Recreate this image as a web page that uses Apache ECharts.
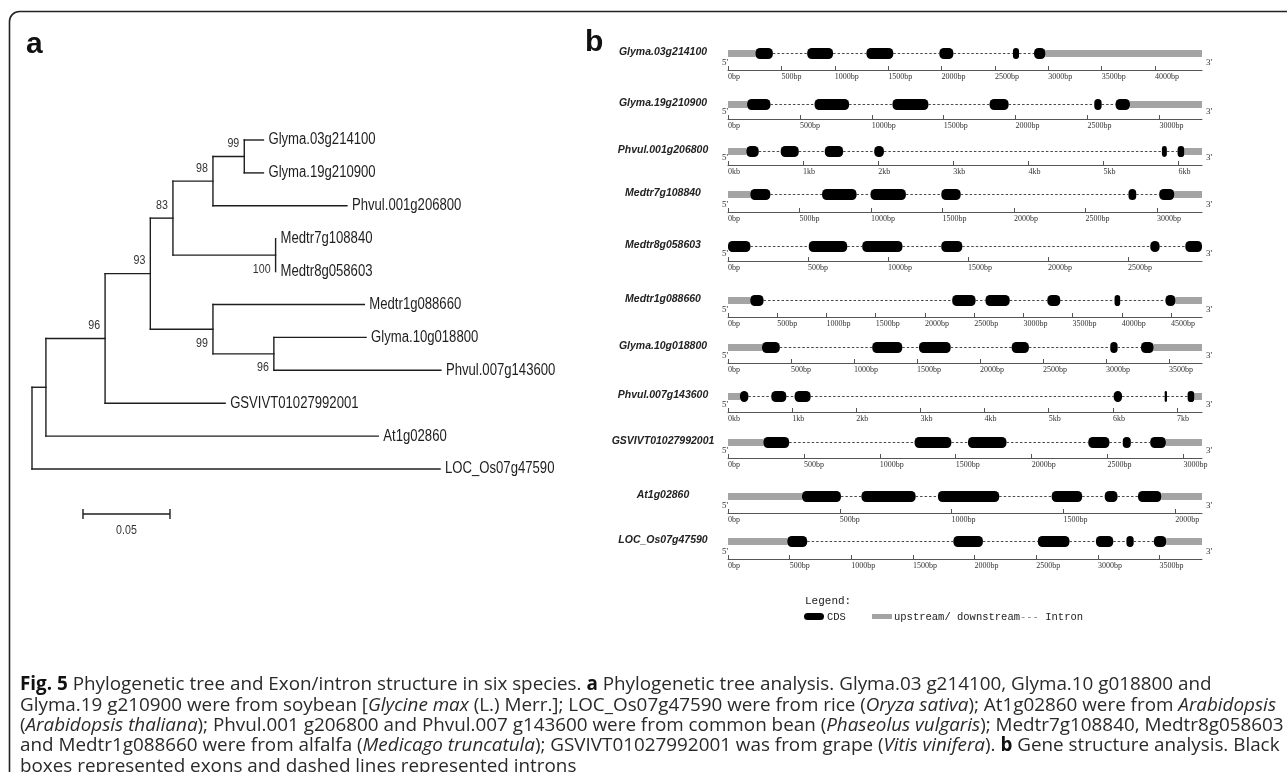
<!DOCTYPE html>
<html><head><meta charset="utf-8">
<script src="https://cdn.jsdelivr.net/npm/echarts@6/dist/echarts.min.js"></script>
<style>html,body{margin:0;padding:0;background:#fff}#c{width:1287px;height:772px}</style>
</head><body><div id="c"></div>
<script>
// ================= DATA =================
// Phylogenetic tree (panel a)
const leafNames = ['Glyma.03g214100','Glyma.19g210900','Phvul.001g206800','Medtr7g108840','Medtr8g058603',
  'Medtr1g088660','Glyma.10g018800','Phvul.007g143600','GSVIVT01027992001','At1g02860','LOC_Os07g47590'];
const leafParent = ['F','F','E','G','G','H','I','I','B','A','root'];
const leafBranch = [0.011,0.011,0.077,0,0,0.087,0.053,0.096,0.069,0.191,0.2345];
const nodeNames  = ['root','A','B','C','D','E','F','G','H','I'];
const nodeParent = [null,'root','A','B','C','D','E','D','C','H'];
const nodeBranch = [0,0.008,0.034,0.026,0.013,0.023,0.018,0.059,0.036,0.035];
const nodeSupport = [null,null,96,93,83,98,99,100,99,96];
const scaleBarLength = 0.05;

// Gene structures (panel b), positions in bp
const geneNames = ['Glyma.03g214100','Glyma.19g210900','Phvul.001g206800','Medtr7g108840','Medtr8g058603',
  'Medtr1g088660','Glyma.10g018800','Phvul.007g143600','GSVIVT01027992001','At1g02860','LOC_Os07g47590'];
const geneLengths = [4440,3296,6312,3315,2962,4814,3762,7389,3122,2120,3844];
const tickSteps = [500,500,1000,500,500,500,500,1000,500,500,500];
const tickUnits = ['bp','bp','kb','bp','bp','bp','bp','kb','bp','bp','bp'];
const utr5End   = [257,133,244,156,0,226,270,187,233,331,481];
const utr3Start = [2973,2795,6076,3121,2962,4544,3378,7269,2884,1938,3554];
const cdsGlyma03  = [[257,420],[742,984],[1297,1548],[1980,2111],[2669,2726],[2867,2973]];
const cdsGlyma19  = [[133,295],[602,842],[1144,1393],[1819,1951],[2547,2598],[2695,2795]];
const cdsPhvul001 = [[244,409],[702,942],[1289,1533],[1947,2076],[5778,5844],[5987,6076]];
const cdsMedtr7   = [[156,296],[658,899],[997,1244],[1492,1627],[2801,2855],[3016,3121]];
const cdsMedtr8   = [[0,140],[505,745],[839,1090],[1333,1464],[2639,2697],[2858,2962]];
const cdsMedtr1   = [[226,361],[2277,2514],[2615,2861],[3243,3375],[3926,3983],[4443,4544]];
const cdsGlyma10  = [[270,411],[1145,1383],[1516,1767],[2252,2388],[3034,3092],[3278,3378]];
const cdsPhvul007 = [[187,317],[675,909],[1038,1288],[6012,6142],[6807,6843],[7165,7269]];
const cdsGSVIVT   = [[233,403],[1229,1471],[1581,1834],[2373,2512],[2600,2653],[2781,2884]];
const cdsAt1g     = [[331,505],[597,839],[939,1213],[1448,1584],[1685,1742],[1834,1938]];
const cdsLOC      = [[481,642],[1828,2067],[2513,2769],[2984,3124],[3231,3290],[3454,3554]];
const geneCds = [cdsGlyma03,cdsGlyma19,cdsPhvul001,cdsMedtr7,cdsMedtr8,cdsMedtr1,cdsGlyma10,cdsPhvul007,cdsGSVIVT,cdsAt1g,cdsLOC];

const captionLines = [
 '{b|Fig. 5} Phylogenetic tree and Exon/intron structure in six species. {b|a} Phylogenetic tree analysis. Glyma.03 g214100, Glyma.10 g018800 and',
 'Glyma.19 g210900 were from soybean [{i|Glycine max} (L.) Merr.]; LOC_Os07g47590 were from rice ({i|Oryza sativa}); At1g02860 were from {i|Arabidopsis}',
 '({i|Arabidopsis thaliana}); Phvul.001 g206800 and Phvul.007 g143600 were from common bean ({i|Phaseolus vulgaris}); Medtr7g108840, Medtr8g058603',
 'and Medtr1g088660 were from alfalfa ({i|Medicago truncatula}); GSVIVT01027992001 was from grape ({i|Vitis vinifera}). {b|b} Gene structure analysis. Black',
 'boxes represented exons and dashed lines represented introns'
];

// ================= LAYOUT (pixels) =================
const TREE = {left:32, top:140, width:435, xmax:0.25, ymax:12, rowH:32.9};
const scaleBarPos = [0.0293, 11.37];
const supportBelow = {G:true, H:true, I:true};
const trackBarY  = [53,104,151,194,246,300,347,396,442,496,541];
const trackAxisY = [70,119,165,212,261,317,363,412,458,513,559];
const TRACK_LEFT = 728, TRACK_W = 474;
const SANS = '"Liberation Sans", Arial, sans-serif';
const NARROW_SCALE = 0.82;          // emulate Arial Narrow by horizontal scaling
const INK = '#1e1e1e';

// ================= TREE GEOMETRY =================
const nodeX = {}, nodeY = {}, children = {};
nodeNames.forEach(n => children[n] = []);
nodeNames.forEach((n,i) => { if (nodeParent[i]) children[nodeParent[i]].push({type:'node', id:n}); });
leafNames.forEach((l,i) => children[leafParent[i]].push({type:'leaf', idx:i}));
function depthNode(n){ if (nodeX[n] !== undefined) return nodeX[n];
  const i = nodeNames.indexOf(n); const p = nodeParent[i];
  nodeX[n] = (p ? depthNode(p) : 0) + nodeBranch[i]; return nodeX[n]; }
nodeNames.forEach(depthNode);
const leafX = leafNames.map((l,i) => nodeX[leafParent[i]] + leafBranch[i]);
const leafY = leafNames.map((l,i) => i);
function yNode(n){ if (nodeY[n] !== undefined) return nodeY[n];
  const ys = children[n].map(c => c.type === 'leaf' ? leafY[c.idx] : yNode(c.id));
  nodeY[n] = ys.reduce((a,b)=>a+b,0)/ys.length; return nodeY[n]; }
nodeNames.forEach(yNode);
const segments = [];
nodeNames.forEach(n => {
  const ys = children[n].map(c => c.type === 'leaf' ? leafY[c.idx] : nodeY[c.id]);
  segments.push([nodeX[n], Math.min(...ys), nodeX[n], Math.max(...ys)]);
  children[n].forEach(c => {
    if (c.type === 'leaf') segments.push([nodeX[n], leafY[c.idx], leafX[c.idx], leafY[c.idx]]);
    else segments.push([nodeX[n], nodeY[c.id], nodeX[c.id], nodeY[c.id]]);
  });
});
const supportData = [], supportNames = [];
nodeNames.forEach((n,i) => { if (nodeSupport[i] != null) { supportData.push([nodeX[n], nodeY[n], nodeSupport[i]]); supportNames.push(n); } });

// ================= CHART =================
const chart = echarts.init(document.getElementById('c'), null, {renderer:'canvas'});
const grids = [], xAxes = [], yAxes = [], series = [];

grids.push({left:TREE.left, top:TREE.top, width:TREE.width, height:TREE.rowH*TREE.ymax, outerBoundsMode:'none'});
xAxes.push({type:'value', gridIndex:0, min:0, max:TREE.xmax, show:false});
yAxes.push({type:'value', gridIndex:0, min:0, max:TREE.ymax, inverse:true, show:false});

function narrowText(x, y, text, size, align, fill){
  return {type:'text', x:x, y:y, scaleX:NARROW_SCALE, scaleY:1,
    style:{text:text, x:0, y:0, fill:fill, fontSize:size, fontFamily:SANS, align:align, verticalAlign:'middle'}};
}

series.push({ type:'custom', xAxisIndex:0, yAxisIndex:0, silent:true, clip:false,
  data: segments, encode:{x:[0,2], y:[1,3]},
  renderItem:(p, api) => {
    const a = api.coord([api.value(0), api.value(1)]), b = api.coord([api.value(2), api.value(3)]);
    return {type:'line', shape:{x1:a[0], y1:a[1], x2:b[0], y2:b[1]},
      style:{stroke:INK, lineWidth:1.4, lineCap:'square'}};
  }});
series.push({ type:'custom', xAxisIndex:0, yAxisIndex:0, silent:true, clip:false,
  data: leafNames.map((l,i) => [leafX[i], leafY[i]]), encode:{x:0, y:1},
  renderItem:(p, api) => {
    const a = api.coord([api.value(0), api.value(1)]);
    return narrowText(a[0]+5, a[1], leafNames[p.dataIndex], 16, 'left', INK);
  }});
series.push({ type:'custom', xAxisIndex:0, yAxisIndex:0, silent:true, clip:false,
  data: supportData, encode:{x:0, y:1},
  renderItem:(p, api) => {
    const a = api.coord([api.value(0), api.value(1)]);
    const below = supportBelow[supportNames[p.dataIndex]];
    return narrowText(a[0]-5, a[1] + (below ? 14 : -13), String(api.value(2)), 13, 'right', '#333');
  }});
series.push({ type:'custom', xAxisIndex:0, yAxisIndex:0, silent:true, clip:false,
  data: [[scaleBarPos[0], scaleBarPos[1], scaleBarPos[0] + scaleBarLength]], encode:{x:[0,2], y:1},
  renderItem:(p, api) => {
    const a = api.coord([api.value(0), api.value(1)]), b = api.coord([api.value(2), api.value(1)]);
    const st = {stroke:INK, lineWidth:1.4};
    return {type:'group', children:[
      {type:'line', shape:{x1:a[0], y1:a[1], x2:b[0], y2:b[1]}, style:st},
      {type:'line', shape:{x1:a[0], y1:a[1]-5, x2:a[0], y2:a[1]+5}, style:st},
      {type:'line', shape:{x1:b[0], y1:b[1]-5, x2:b[0], y2:b[1]+5}, style:st},
      narrowText((a[0]+b[0])/2, a[1]+16, String(scaleBarLength), 13, 'center', '#333')
    ]};
  }});

// gene tracks
geneNames.forEach((g, i) => {
  const gi = i + 1;
  const len = geneLengths[i], step = tickSteps[i], unit = tickUnits[i];
  const ticks = []; for (let v = 0; v <= len; v += step) ticks.push(v);
  grids.push({left:TRACK_LEFT, top:trackBarY[i], width:TRACK_W, height:trackAxisY[i]-trackBarY[i], outerBoundsMode:'none'});
  xAxes.push({type:'value', gridIndex:gi, min:0, max:len, position:'bottom',
    axisLine:{show:true, onZero:false, lineStyle:{color:'#555', width:1}},
    axisTick:{show:true, inside:true, length:4, customValues:ticks, lineStyle:{color:'#555', width:1}},
    axisLabel:{show:true, customValues:ticks, hideOverlap:false, align:'left', margin:3,
      formatter: v => unit === 'kb' ? (v/1000) + 'kb' : v + 'bp',
      fontSize:8, fontFamily:'"Liberation Serif", serif', color:'#333'},
    splitLine:{show:false}});
  yAxes.push({type:'value', gridIndex:gi, min:0, max:1, show:false});
  // exons (UTR + CDS), introns as the gaps between them
  const exons = [];
  if (utr5End[i] > 0) exons.push([0, utr5End[i], 1]);
  geneCds[i].forEach(c => exons.push([c[0], c[1], 2]));
  if (utr3Start[i] < len) exons.push([utr3Start[i], len, 1]);
  exons.sort((a,b) => a[0]-b[0]);
  const introns = [];
  for (let k = 1; k < exons.length; k++) if (exons[k][0] > exons[k-1][1]) introns.push([exons[k-1][1], exons[k][0], 0]);
  const items = introns.concat(exons.filter(e => e[2] === 1), exons.filter(e => e[2] === 2));
  series.push({ type:'custom', xAxisIndex:gi, yAxisIndex:gi, silent:true, clip:false,
    data: items, encode:{x:[0,1]},
    renderItem:(p, api) => {
      const s = api.coord([api.value(0), 1]), e = api.coord([api.value(1), 1]);
      const kind = api.value(2), w = e[0]-s[0], y = s[1];
      if (kind === 0) return {type:'line', shape:{x1:s[0], y1:y+0.5, x2:e[0], y2:y+0.5},
        style:{stroke:'#4a4a4a', lineWidth:1, lineDash:[2.5,2]}};
      if (kind === 1) return {type:'rect', shape:{x:s[0], y:y-3, width:w, height:7},
        style:{fill:'#a4a4a4'}};
      return {type:'rect', shape:{x:s[0], y:y-5, width:w, height:11, r:Math.min(w/2, 4.5)},
        style:{fill:'#000'}};
    }});
});

// ================= GRAPHICS (frame, titles, labels, legend, caption) =================
const graphics = [];
graphics.push({type:'rect', silent:true, shape:{x:9.5, y:11.5, width:1300, height:800, r:10},
  style:{fill:'none', stroke:'#222', lineWidth:1.6}, z:-1});
graphics.push({type:'text', x:26, y:30, style:{text:'a', fontSize:30, fontWeight:'bold', fontFamily:SANS, fill:'#111', verticalAlign:'top'}});
graphics.push({type:'text', x:585, y:28, style:{text:'b', fontSize:30, fontWeight:'bold', fontFamily:SANS, fill:'#111', verticalAlign:'top'}});
geneNames.forEach((g, i) => {
  graphics.push({type:'text', x:663, y:trackBarY[i]-1, style:{text:g, fontSize:10.5, fontWeight:'bold', fontStyle:'italic',
    fontFamily:SANS, fill:'#222', align:'center', verticalAlign:'middle'}});
  graphics.push({type:'text', x:TRACK_LEFT-6, y:trackAxisY[i]-7, style:{text:"5'", fontSize:9,
    fontFamily:'"Liberation Serif", serif', fill:'#333', align:'left', verticalAlign:'middle'}});
  graphics.push({type:'text', x:TRACK_LEFT+TRACK_W+4, y:trackAxisY[i]-7, style:{text:"3'", fontSize:9,
    fontFamily:'"Liberation Serif", serif', fill:'#333', align:'left', verticalAlign:'middle'}});
});
// legend
const MONO = '"Liberation Mono", "Courier New", monospace';
graphics.push({type:'text', x:805, y:601, style:{text:'Legend:', fontSize:11, fontFamily:MONO, fill:'#222', verticalAlign:'middle'}});
graphics.push({type:'rect', shape:{x:804, y:613, width:20, height:7, r:3.5}, style:{fill:'#000'}});
graphics.push({type:'text', x:827, y:617, style:{text:'CDS', fontSize:10.5, fontFamily:MONO, fill:'#222', verticalAlign:'middle'}});
graphics.push({type:'rect', shape:{x:872, y:614, width:20, height:5}, style:{fill:'#a4a4a4'}});
graphics.push({type:'text', x:894, y:617, style:{text:'{t|upstream/ downstream}{d|---}{t| Intron}', verticalAlign:'middle',
  fontSize:10.5, fontFamily:MONO, fill:'#222',
  rich:{t:{fontSize:10.5, fontFamily:MONO, fill:'#222'}, d:{fontSize:10.5, fontFamily:MONO, fill:'#888'}}}});

// caption: condensed by horizontal scaling so the longest line spans the reference width
const CAP_FONT = '"Open Sans", "Liberation Sans", sans-serif';
const CAP_SIZE = 19;
const cv = document.createElement('canvas').getContext('2d');
function measureLine(line, size){
  let w = 0; const re = /\{(\w)\|([^}]*)\}|([^{]+)/g; let m;
  while ((m = re.exec(line))) {
    const st = m[1] || '', t = m[1] ? m[2] : m[3];
    cv.font = (st === 'i' ? 'italic ' : '') + (st === 'b' ? 'bold ' : '') + size + 'px ' + CAP_FONT;
    w += cv.measureText(t).width;
  }
  return w;
}
const capScale = 1256 / measureLine(captionLines[1], CAP_SIZE);
captionLines.forEach((line, k) => {
  graphics.push({type:'text', x:20, y:685 + k*20.3, scaleX:capScale, scaleY:1,
    style:{text:line, x:0, y:0, fontSize:CAP_SIZE, fontFamily:CAP_FONT, fill:'#2a2a2a', verticalAlign:'middle',
    rich:{b:{fontSize:CAP_SIZE, fontFamily:CAP_FONT, fontWeight:'bold', fill:'#111'},
          i:{fontSize:CAP_SIZE, fontFamily:CAP_FONT, fontStyle:'italic', fill:'#2a2a2a'}}}});
});

chart.setOption({
  animation:false, backgroundColor:'#fff',
  grid:grids, xAxis:xAxes, yAxis:yAxes, series:series, graphic:{elements:graphics}
});
</script></body></html>
